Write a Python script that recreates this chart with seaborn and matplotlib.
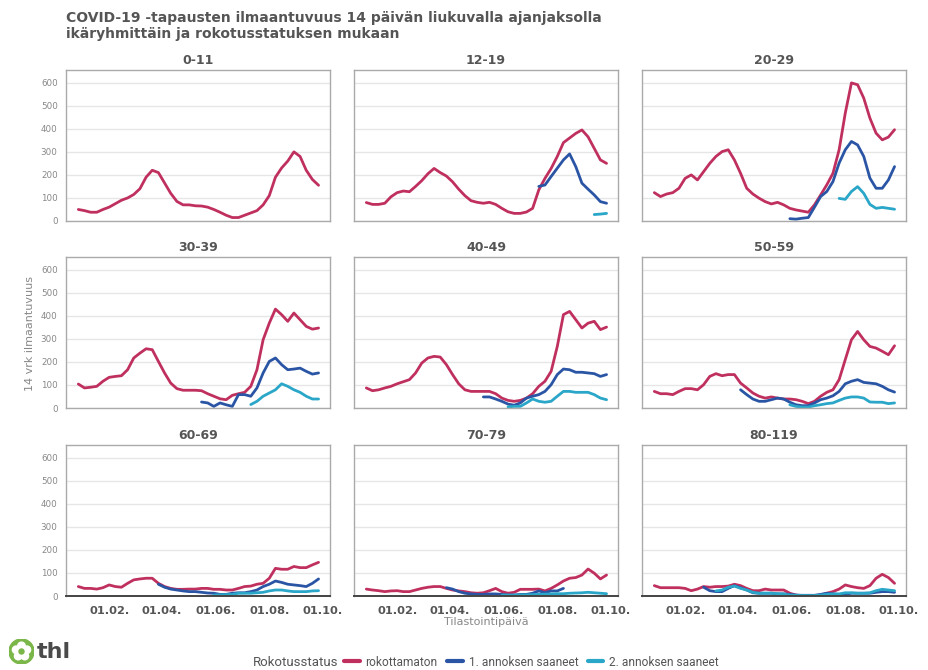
import numpy as np
import pandas as pd
import matplotlib
matplotlib.use("Agg")
import matplotlib.pyplot as plt
import seaborn as sns
from matplotlib.lines import Line2D
from matplotlib.patches import Circle


def pad(before, values, after=0):
    """Missing weeks before/after a series starts or ends."""
    return [np.nan] * before + list(values) + [np.nan] * after


# Weekly readings, 27.12.2020 -> 26.09.2021
dates = pd.date_range("2020-12-27", periods=40, freq="7D")

groups = ["0-11", "12-19", "20-29", "30-39", "40-49", "50-59", "60-69", "70-79", "80-119"]
statuses = ["rokottamaton", "1. annoksen saaneet", "2. annoksen saaneet"]
colors = ["#c0305f", "#2a55a5", "#2aa6c8"]

red_0_11 = [50, 45, 38, 38, 50, 60, 75, 90, 100, 115, 140, 190, 220, 210, 165, 120, 85, 70, 70, 66,
            65, 60, 50, 38, 25, 15, 15, 25, 35, 45, 70, 110, 190, 230, 260, 300, 280, 220, 180, 155]
blue_0_11 = pad(40, [])
cyan_0_11 = pad(40, [])

red_12_19 = [80, 72, 72, 77, 105, 123, 130, 127, 150, 175, 205, 228, 210, 195, 170, 138, 110, 88, 81, 77,
             81, 72, 55, 40, 33, 33, 39, 55, 135, 185, 228, 280, 340, 360, 380, 395, 365, 315, 265, 250]
blue_12_19 = pad(28, [150, 156, 193, 229, 265, 291, 236, 164, 138, 113, 84, 77])
cyan_12_19 = pad(37, [28, 30, 33])

red_20_29 = [123, 106, 117, 123, 142, 185, 200, 178, 214, 250, 280, 301, 309, 265, 207, 142, 117, 99, 84, 74,
             81, 70, 55, 48, 43, 38, 70, 113, 157, 207, 309, 468, 599, 591, 533, 446, 381, 352, 364, 396]
blue_20_29 = pad(22, [10, 8, 12, 15, 60, 106, 128, 171, 251, 309, 345, 330, 280, 186, 142, 142, 178, 236])
cyan_20_29 = pad(30, [98, 94, 128, 149, 120, 72, 55, 59, 55, 51])

red_30_39 = [104, 87, 90, 94, 116, 133, 137, 140, 166, 217, 238, 257, 253, 202, 152, 108, 84, 77, 77, 77,
             75, 62, 51, 40, 36, 55, 62, 68, 94, 166, 296, 368, 429, 405, 376, 412, 383, 354, 342, 347]
blue_30_39 = pad(20, [26, 22, 7, 22, 14, 7, 58, 58, 51, 87, 152, 202, 217, 188, 166, 169, 173, 159, 147, 152])
cyan_30_39 = pad(28, [15, 29, 51, 65, 79, 105, 94, 79, 68, 51, 39, 39])

red_40_49 = [87, 75, 79, 87, 94, 105, 114, 123, 152, 195, 217, 224, 221, 188, 145, 105, 79, 72, 72, 72,
             72, 62, 43, 33, 29, 33, 43, 62, 94, 116, 159, 267, 405, 419, 383, 347, 368, 376, 340, 351]
blue_40_49 = pad(19, [48, 48, 39, 29, 17, 12, 22, 43, 51, 58, 72, 101, 145, 169, 166, 155, 155, 152, 149, 137, 145])
cyan_40_49 = pad(23, [5, 7, 7, 22, 39, 29, 25, 29, 51, 72, 72, 68, 68, 68, 58, 43, 36])

red_50_59 = [72, 62, 62, 58, 72, 84, 84, 79, 101, 137, 149, 140, 145, 145, 108, 87, 65, 51, 43, 48,
             43, 39, 39, 36, 29, 19, 29, 51, 68, 79, 123, 210, 296, 332, 296, 267, 260, 246, 231, 270]
blue_50_59 = pad(14, [79, 58, 39, 29, 29, 36, 43, 39, 25, 14, 10, 10, 22, 36, 43, 53, 72, 105, 116, 123,
                      111, 108, 105, 94, 79, 69])
cyan_50_59 = pad(22, [14, 7, 4, 4, 10, 14, 19, 22, 33, 43, 48, 48, 43, 26, 25, 25, 19, 22])

red_60_69 = [41, 33, 33, 30, 36, 48, 41, 38, 55, 70, 74, 77, 77, 55, 41, 33, 29, 29, 30, 30,
             33, 33, 29, 29, 26, 26, 33, 41, 43, 51, 55, 77, 120, 116, 116, 128, 123, 123, 135, 146]
blue_60_69 = pad(13, [51, 38, 30, 26, 22, 19, 19, 16, 13, 12, 7, 7, 12, 14, 14, 19, 26, 41, 51, 65,
                      59, 51, 48, 45, 41, 55, 74])
cyan_60_69 = pad(22, [4, 5, 6, 7, 12, 12, 12, 14, 16, 22, 26, 26, 22, 19, 19, 19, 22, 23])

red_70_79 = [30, 26, 23, 19, 22, 23, 19, 19, 26, 33, 38, 41, 41, 33, 26, 22, 19, 14, 12, 14,
             23, 33, 19, 12, 16, 29, 29, 29, 30, 22, 33, 48, 65, 77, 80, 91, 117, 99, 74, 91]
blue_70_79 = pad(13, [36, 30, 19, 12, 9, 7, 7, 9, 9, 7, 4, 4, 7, 7, 12, 22, 14, 22, 22, 33], 7)
cyan_70_79 = pad(22, [4, 4, 4, 5, 5, 6, 7, 8, 9, 10, 10, 12, 13, 14, 16, 14, 12, 10])

red_80_119 = [45, 36, 36, 36, 36, 33, 23, 30, 41, 38, 41, 41, 43, 51, 45, 33, 23, 23, 30, 26,
              26, 26, 12, 4, 1, 1, 1, 4, 12, 19, 30, 48, 41, 36, 33, 45, 77, 94, 80, 55]
blue_80_119 = pad(8, [38, 23, 19, 19, 33, 45, 36, 26, 14, 12, 12, 12, 9, 9, 7, 4, 3, 3, 3, 7,
                      12, 9, 7, 7, 12, 12, 12, 12, 16, 19, 19, 16])
cyan_80_119 = pad(10, [22, 26, 38, 43, 33, 26, 16, 12, 12, 12, 10, 9, 4, 3, 2, 2, 2, 4, 7, 9,
                       9, 14, 14, 12, 12, 14, 23, 29, 26, 23])

series = {
    "0-11": [red_0_11, blue_0_11, cyan_0_11],
    "12-19": [red_12_19, blue_12_19, cyan_12_19],
    "20-29": [red_20_29, blue_20_29, cyan_20_29],
    "30-39": [red_30_39, blue_30_39, cyan_30_39],
    "40-49": [red_40_49, blue_40_49, cyan_40_49],
    "50-59": [red_50_59, blue_50_59, cyan_50_59],
    "60-69": [red_60_69, blue_60_69, cyan_60_69],
    "70-79": [red_70_79, blue_70_79, cyan_70_79],
    "80-119": [red_80_119, blue_80_119, cyan_80_119],
}

tick_dates = pd.to_datetime(["2021-02-01", "2021-04-01", "2021-06-01", "2021-08-01", "2021-10-01"])
tick_labels = ["01.02.", "01.04.", "01.06.", "01.08.", "01.10."]
y_ticks = [0, 100, 200, 300, 400, 500, 600]

# Long table for seaborn
rows = []
for group in groups:
    for status, values in zip(statuses, series[group]):
        for d, v in zip(dates, values):
            rows.append({"date": d, "group": group, "status": status, "value": v})
df = pd.DataFrame(rows).dropna(subset=["value"])

sns.set_theme(style="white")
plt.rcParams["font.family"] = ["DejaVu Sans"]

W, H = 929, 670
fig = plt.figure(figsize=(W / 100, H / 100), dpi=100)
fig.patch.set_facecolor("white")

col_left = [66, 354, 642]
row_bottom = [221, 408, 596]
ax_w, ax_h = 264, 151

palette = dict(zip(statuses, colors))

for i, group in enumerate(groups):
    r, c = divmod(i, 3)
    ax = fig.add_axes([col_left[c] / W, 1 - row_bottom[r] / H, ax_w / W, ax_h / H])
    sub = df[df["group"] == group]
    sns.lineplot(
        data=sub, x="date", y="value", hue="status", hue_order=statuses,
        palette=palette, linewidth=2.0, estimator=None, legend=False, ax=ax,
    )
    ax.set_xlim(pd.Timestamp("2020-12-13"), pd.Timestamp("2021-10-09"))
    ax.set_ylim(0, 655)
    ax.set_yticks(y_ticks)
    ax.set_xticks(tick_dates)
    ax.set_xlabel("")
    ax.set_ylabel("")
    ax.grid(axis="y", color="#e6e6e6", linewidth=1)
    ax.set_axisbelow(True)
    for sp in ax.spines.values():
        sp.set_color("#aaaaaa")
        sp.set_linewidth(1)
    ax.set_title(group, fontsize=9, fontweight="bold", color="#555555", pad=4)

    if c == 0:
        ax.tick_params(axis="y", labelsize=6.3, labelcolor="#888888", length=0, pad=6)
    else:
        ax.tick_params(axis="y", labelleft=False, length=0)

    if r == 2:
        ax.set_xticklabels(tick_labels)
        ax.spines["bottom"].set_color("#444444")
        ax.spines["bottom"].set_linewidth(1.4)
        ax.tick_params(axis="x", labelsize=8.2, labelcolor="#555555", length=4,
                       width=1.2, color="#444444", direction="out", pad=3)
        for lbl in ax.get_xticklabels():
            lbl.set_fontweight("bold")
    else:
        ax.tick_params(axis="x", labelbottom=False, length=0)

fig.text(66 / W, 1 - 22 / H, "COVID-19 -tapausten ilmaantuvuus 14 päivän liukuvalla ajanjaksolla",
         fontsize=10, fontweight="bold", color="#555555", ha="left", va="baseline")
fig.text(66 / W, 1 - 38 / H, "ikäryhmittäin ja rokotusstatuksen mukaan",
         fontsize=10, fontweight="bold", color="#555555", ha="left", va="baseline")

fig.text(30 / W, 1 - 333 / H, "14 vrk ilmaantuvuus", rotation=90, fontsize=8,
         color="#888888", ha="center", va="center")
fig.text(486 / W, 1 - 622 / H, "Tilastointipäivä", fontsize=8, color="#888888",
         ha="center", va="center")

# legend
fig.text(253 / W, 1 - 662 / H, "Rokotusstatus", fontsize=9.5, color="#555555",
         ha="left", va="center", family=["Roboto", "DejaVu Sans"])
handles = [Line2D([0], [0], color=col, linewidth=3) for col in colors]
fig.legend(handles, statuses, loc="center left", bbox_to_anchor=(344 / W, 1 - 662 / H),
           ncol=3, frameon=False, handlelength=1.3, handletextpad=0.5, columnspacing=0.8,
           prop={"family": ["Roboto", "DejaVu Sans"], "size": 8.6}, labelcolor="#555555",
           borderpad=0, borderaxespad=0)

# thl logo
logo = fig.add_axes([9 / W, 1 - 664 / H, 25 / W, 25 / H])
logo.set_xlim(-1, 1)
logo.set_ylim(-1, 1)
logo.set_aspect("equal")
logo.axis("off")
logo.add_patch(Circle((0, 0), 1, color="#7ab648"))
for k in range(5):
    a = np.pi / 2 + k * 2 * np.pi / 5
    logo.add_patch(Circle((0.45 * np.cos(a), 0.45 * np.sin(a)), 0.3, color="white"))
logo.add_patch(Circle((0, 0), 0.2, color="#7ab648"))
fig.text(37 / W, 1 - 652 / H, "thl", fontsize=16, fontweight="bold", color="#4a4a4a",
         ha="left", va="center")

fig.savefig("out.png", dpi=100)
